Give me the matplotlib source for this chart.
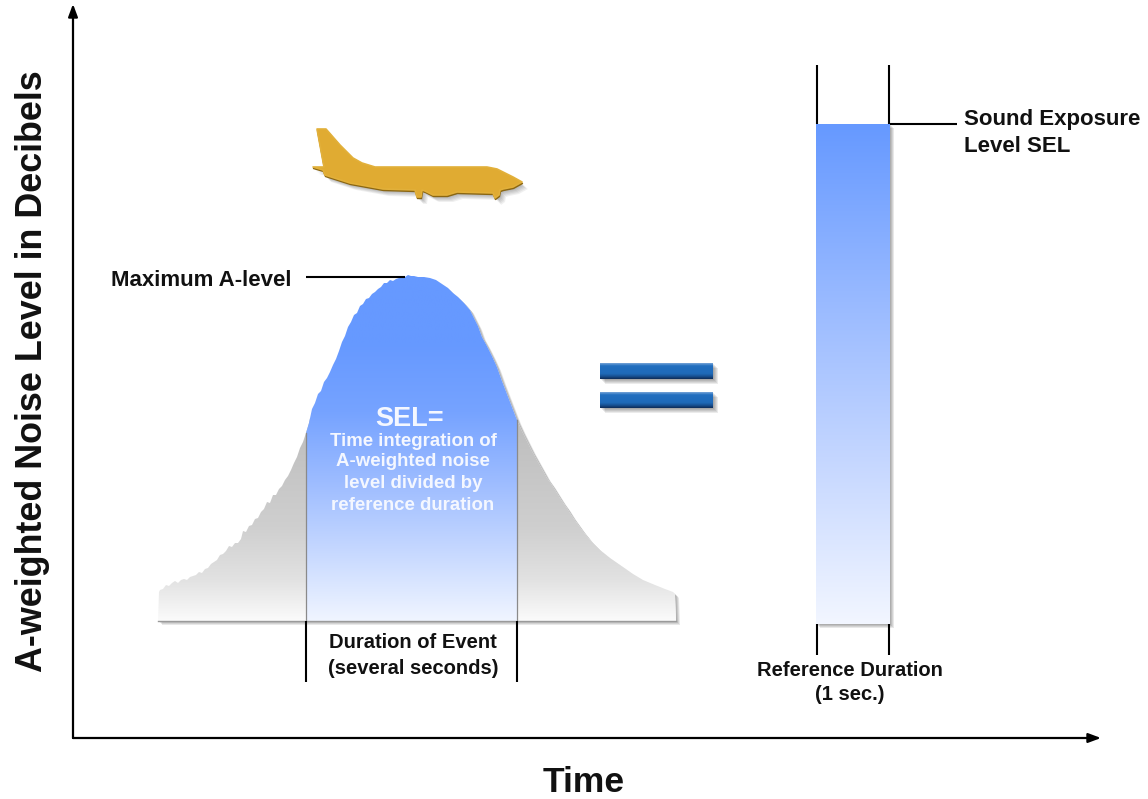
import numpy as np
import matplotlib
matplotlib.use("Agg")
import matplotlib.pyplot as plt
from matplotlib.colors import LinearSegmentedColormap
from matplotlib.patches import Polygon

plt.rcParams['font.family'] = ['Liberation Sans', 'DejaVu Sans']

# Noise event: time and A-weighted level (arbitrary units)
event_time = [87,90,93,96,99,102,105,108,111,114,
              117,120,123,126,129,132,135,138,141,144,
              147,150,153,156,159,162,165,168,170,173,
              176,179,182,185,188,191,194,197,200,203,
              206,209,212,215,218,221,224,227,230,233,
              236,239,242,245,248,251,254,257,260,263,
              266,269,272,275,278,281,284,287,290,293,
              296,299,302,305,308,311,314,317,320,323,
              326,329,332,335,338,341,345,351,357,
              363,369,375,380,385,391,397,401,405,409,
              414,419,424,429,434,439,444,449,454,459,
              464,469,474,479,484,489,494,499,504,509,
              517,527,537,550,560,570,582,592,600]
event_level = [148,149,153,152,155,157,155,158,159,158,
               161,162,163,166,165,169,170,174,176,178,
               183,184,187,192,191,195,195,199,207,206,
               212,213,219,220,226,229,236,235,243,243,
               249,252,258,262,268,275,281,290,296,305,
               315,329,335,344,347,356,360,366,373,379,
               387,396,402,411,416,423,425,432,434,439,
               440,444,446,449,451,455,455,458,457,459,
               460,462,461,463,462,462,461,461,460,
               458,454,450,445,441,435,428,420,412,401,
               392,382,371,357,344,331,318,307,297,287,
               278,269,260,253,245,237,230,222,215,208,
               198,188,180,171,164,158,153,149,146]
base_level = 117
event_start, event_end = 85, 603
window_start, window_end = 233, 444
max_level = 461
sel_level = 614
ref_start, ref_end = 744, 816

fig = plt.figure(figsize=(11.48, 7.99), dpi=100)
ax = fig.add_axes([0, 0, 1, 1])
ax.axis('off')
XLIM, YLIM = (-73, 1075), (-61, 738)


def gradient(x0, x1, y0, y1, stops, z, clip=None):
    cmap = LinearSegmentedColormap.from_list('g', stops)
    g = np.linspace(0, 1, 256).reshape(-1, 1)
    im = ax.imshow(g, cmap=cmap, vmin=0, vmax=1, extent=(x0, x1, y0, y1), origin='lower',
                   aspect='auto', zorder=z, interpolation='bilinear')
    if clip is not None:
        im.set_clip_path(clip)
    return im


def soft_shadow(xy, z, n=5, dx=1.0, dy=-1.0, alpha=0.09):
    for i in range(1, n + 1):
        ax.add_patch(Polygon(np.asarray(xy) + [dx * i, dy * i], closed=True, fc='black', ec='none',
                             alpha=alpha, zorder=z))


# Noise curve closed on the baseline
outline = np.column_stack([
    np.r_[event_start, event_start + 1, event_time, event_end - 1, event_end],
    np.r_[base_level, event_level[0] - 2, event_level, event_level[-1] - 2, base_level]])
soft_shadow(outline, 1, n=4)
ax.add_patch(Polygon(outline, closed=True, fc='white', ec='none', zorder=2))
clip_grey = Polygon(outline, closed=True, transform=ax.transData)
clip_blue = Polygon(outline, closed=True, transform=ax.transData)
gradient(event_start, event_end, base_level, 320,
         [(0, '#fbfbfb'), (0.2, '#e2e2e2'), (0.46, '#cfcfcf'), (1, '#bdbdbd')], 3, clip_grey)
top = max(event_level) + 2
gradient(window_start, window_end, base_level, top,
         ['#f0f5ff', '#c6d8ff', '#9dbcff', '#76a3ff', '#6699ff', '#6699ff'], 4, clip_blue)
i0 = np.searchsorted(event_time, window_start)
i1 = np.searchsorted(event_time, window_end)
ax.plot([window_start] * 2, [base_level, event_level[i0]], color='#8a8a8a', lw=0.9, zorder=5)
ax.plot([window_end] * 2, [base_level, event_level[i1]], color='#8a8a8a', lw=0.9, zorder=5)
ax.plot([event_start, event_end], [base_level, base_level], color='#9a9a9a', lw=1.0, zorder=5)

# Reference-duration bar
bar = [(ref_start - 1, base_level - 3), (ref_end + 1, base_level - 3), (ref_end + 1, sel_level),
       (ref_start - 1, sel_level)]
soft_shadow(bar, 1, n=4)
ax.add_patch(Polygon(bar, closed=True, fc='white', ec='none', zorder=2))
gradient(ref_start - 1, ref_end + 1, base_level - 3, sel_level,
         ['#f2f6ff', '#c4d6ff', '#96b8ff', '#6699ff'], 3)

# Equals sign
for y0, y1 in [(359, 375), (330, 346)]:
    eq = [(527, y0), (640, y0), (640, y1), (527, y1)]
    soft_shadow(eq, 1, n=5, alpha=0.08)
    gradient(527, 640, y0, y1, ['#0e2a55', '#174f90', '#1f6ab8', '#206cbc', '#206cbc', '#2470c0', '#7aa6d8'], 3)

# Aeroplane
plane = np.array([(317,129),(326,129),(340,145),(353,158),(362,163),(375,167),(487,167),(497,169),
                  (503,172),(513,177),(522,182),(513,187),(503,189),(500,190),(499,195),(495,198),
                  (493,193),(457,192),(447,195),(433,195),(425,191),(422,190),(421,197),(417,197),
                  (415,190),(383,189),(350,183),(325,175),(323,170),(313,167),(324,167)], dtype=float)
plane_xy = np.column_stack([plane[:, 0] - 73, 738 - plane[:, 1]])
soft_shadow(plane_xy + [1, -2], 1, n=5, alpha=0.06)
ax.add_patch(Polygon(plane_xy + [0.5, -1.5], closed=True, fc='#8a6612', ec='#8a6612', lw=1,
                     joinstyle='round', zorder=2))
ax.add_patch(Polygon(plane_xy, closed=True, fc='#e0ab32', ec='#e2b03a', lw=1.2,
                     joinstyle='round', zorder=3))

# Leader lines
lc = dict(color='black', lw=1.5, zorder=6, solid_capstyle='butt')
ax.plot([233, 332], [max_level, max_level], **lc)
ax.plot([window_start] * 2, [56, base_level], **lc)
ax.plot([window_end] * 2, [56, base_level], **lc)
ax.plot([ref_start] * 2, [83, 114], **lc)
ax.plot([ref_end] * 2, [83, 114], **lc)
ax.plot([ref_start] * 2, [sel_level, 673], **lc)
ax.plot([ref_end] * 2, [sel_level, 673], **lc)
ax.plot([ref_end + 1, 884], [sel_level, sel_level], **lc)

# Axes arrows
arrow = dict(arrowstyle='-|>,head_length=0.75,head_width=0.28', color='black', lw=1.6,
             shrinkA=0, shrinkB=0)
ax.annotate('', xy=(0, 734), xytext=(0, 0), arrowprops=arrow, zorder=7)
ax.annotate('', xy=(1028, 0), xytext=(0, 0), arrowprops=arrow, zorder=7)

# Text
bold = dict(fontweight='bold', color='#111111', va='center')
ax.text(38, 457, 'Maximum A-level', ha='left', fontsize=16, **bold)
ax.text(891, 618, 'Sound Exposure', ha='left', fontsize=16, **bold)
ax.text(891, 591, 'Level SEL', ha='left', fontsize=16, **bold)
ax.text(340, 96, 'Duration of Event', ha='center', fontsize=14.5, **bold)
ax.text(340, 70, '(several seconds)', ha='center', fontsize=14.5, **bold)
ax.text(777, 68, 'Reference Duration', ha='center', fontsize=14.5, **bold)
ax.text(777, 43, '(1 sec.)', ha='center', fontsize=14.5, **bold)
ax.text(-40, 367, 'A-weighted Noise Level in Decibels', rotation=90, ha='center', fontsize=25.8, **bold)
ax.text(511, -54, 'Time', ha='center', va='baseline', fontsize=25.5, fontweight='bold', color='#111111')
white = dict(fontweight='bold', color='#f4f7ff', ha='center', va='center', zorder=8)
ax.text(337, 319, 'SEL=', fontsize=19.5, **white)
for y, s in zip([297, 276, 255, 233],
                ['Time integration of', 'A-weighted noise', 'level divided by', 'reference duration']):
    ax.text(340, y, s, fontsize=13.4, **white)

ax.set_xlim(*XLIM)
ax.set_ylim(*YLIM)
fig.savefig('out.png', dpi=100)
